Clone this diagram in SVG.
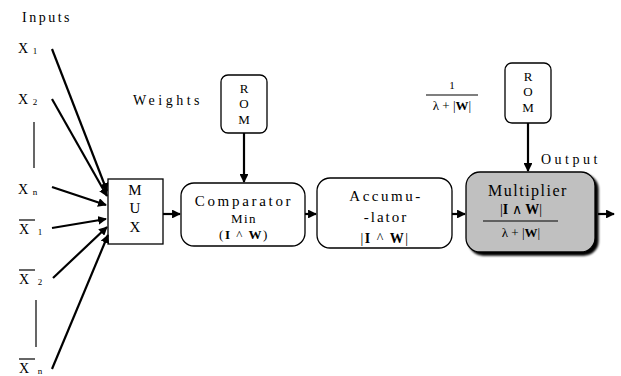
<svg xmlns="http://www.w3.org/2000/svg" width="621" height="376" viewBox="0 0 621 376" font-family="Liberation Serif">
<defs>
<marker id="ah" viewBox="0 0 10 10" refX="9" refY="5" markerWidth="4" markerHeight="4" orient="auto" markerUnits="strokeWidth">
<path d="M0,0 L10,5 L0,10 z" fill="#000"/>
</marker>
<filter id="sh" x="-10%" y="-10%" width="130%" height="130%">
<feOffset dx="3" dy="3" in="SourceAlpha" result="o"/>
<feGaussianBlur in="o" stdDeviation="1" result="b"/>
<feMerge><feMergeNode in="b"/><feMergeNode in="SourceGraphic"/></feMerge>
</filter>
</defs>
<style>
.lbl{font-size:14px;letter-spacing:2.5px}
.wide{letter-spacing:3.5px}
.sub{font-size:9px;letter-spacing:0}
.box{fill:#fff;stroke:#000;stroke-width:1.3}
.c{stroke:#000;stroke-width:2.2;fill:none}
.t{text-anchor:middle}
.b{font-weight:bold}
.thin{stroke:#000;stroke-width:1.2}
</style>
<rect width="621" height="376" fill="#fff"/>

<g id="inputs">
<text font-family="Liberation Serif" class="lbl" x="22" y="22">Inputs</text>
<text font-family="Liberation Serif" class="lbl" x="18" y="53">X<tspan class="sub" dx="2" dy="1">1</tspan></text>
<text font-family="Liberation Serif" class="lbl" x="18" y="104">X<tspan class="sub" dx="2" dy="1">2</tspan></text>
<line class="thin" x1="34" y1="122" x2="34" y2="168"/>
<text font-family="Liberation Serif" class="lbl" x="18" y="194">X<tspan class="sub" dx="2" dy="1">n</tspan></text>
<text font-family="Liberation Serif" class="lbl" x="19" y="234">X<tspan class="sub" dx="6" dy="1">1</tspan></text>
<line class="thin" x1="19" y1="220" x2="35" y2="220"/>
<text font-family="Liberation Serif" class="lbl" x="19" y="284">X<tspan class="sub" dx="6" dy="1">2</tspan></text>
<line class="thin" x1="19" y1="270" x2="35" y2="270"/>
<line class="thin" x1="36" y1="300" x2="36" y2="347"/>
<text font-family="Liberation Serif" class="lbl" x="19" y="373">X<tspan class="sub" dx="6" dy="1">n</tspan></text>
<line class="thin" x1="19" y1="359" x2="35" y2="359"/>
</g>

<g id="weights-label"><text font-family="Liberation Serif" class="lbl wide" x="133" y="105">Weights</text></g>

<g id="frac-label">
<text font-family="Liberation Serif" class="t" x="452" y="89" font-size="11">1</text>
<line class="thin" x1="426" y1="95" x2="478" y2="95" stroke-width="1"/>
<text font-family="Liberation Serif" class="t" x="452" y="110" font-size="13">λ + |<tspan class="b">W</tspan>|</text>
</g>

<g id="output-label"><text font-family="Liberation Serif" class="lbl wide" x="541" y="164">Output</text></g>

<g id="mux">
<rect class="box" x="108" y="179" width="55" height="65"/>
<text font-family="Liberation Serif" class="t" x="135" y="195" font-size="15">M</text>
<text font-family="Liberation Serif" class="t" x="135" y="213" font-size="15">U</text>
<text font-family="Liberation Serif" class="t" x="135" y="232" font-size="15">X</text>
</g>

<g id="rom1">
<rect class="box" x="221" y="75" width="46" height="58" rx="7"/>
<text font-family="Liberation Serif" class="t" x="244" y="93" font-size="13">R</text>
<text font-family="Liberation Serif" class="t" x="244" y="108" font-size="13">O</text>
<text font-family="Liberation Serif" class="t" x="244" y="124" font-size="13">M</text>
</g>

<g id="comparator">
<rect class="box" x="181" y="183" width="124" height="63" rx="13"/>
<text font-family="Liberation Serif" class="t" x="244" y="206" font-size="15" letter-spacing="2.7">Comparator</text>
<text font-family="Liberation Serif" class="t" x="244" y="223" font-size="13" letter-spacing="1.5">Min</text>
<text font-family="Liberation Serif" class="t" x="244" y="239" font-size="13" letter-spacing="1.5">(<tspan class="b">I</tspan> ^ <tspan class="b">W</tspan>)</text>
</g>

<g id="accumulator">
<rect class="box" x="317" y="178" width="135" height="70" rx="13"/>
<text font-family="Liberation Serif" class="t" x="386" y="201" font-size="15" letter-spacing="2.5">Accumu-</text>
<text font-family="Liberation Serif" class="t" x="386" y="222" font-size="15" letter-spacing="2">-lator</text>
<text font-family="Liberation Serif" class="t" x="385" y="243" font-size="14" letter-spacing="1.5">|<tspan class="b">I</tspan> ^ <tspan class="b">W</tspan>|</text>
</g>

<g id="rom2">
<rect class="box" x="505" y="63" width="46" height="60" rx="7"/>
<text font-family="Liberation Serif" class="t" x="528" y="81" font-size="13">R</text>
<text font-family="Liberation Serif" class="t" x="528" y="96" font-size="13">O</text>
<text font-family="Liberation Serif" class="t" x="528" y="112" font-size="13">M</text>
</g>

<g id="multiplier">
<rect x="466" y="172" width="129" height="80" rx="14" fill="#c0c0c0" stroke="#000" stroke-width="1.3" filter="url(#sh)"/>
<text font-family="Liberation Serif" class="t" x="528" y="196" font-size="16" letter-spacing="1.5">Multiplier</text>
<text font-family="Liberation Serif" class="t" x="521" y="214" font-size="14">|<tspan class="b">I</tspan> ∧ <tspan class="b">W</tspan>|</text>
<line x1="483" y1="221" x2="558" y2="221" stroke="#000" stroke-width="1"/>
<text font-family="Liberation Serif" class="t" x="521" y="237" font-size="13">λ + |<tspan class="b">W</tspan>|</text>
</g>

<g id="connectors">
<line class="c" x1="52" y1="49" x2="107" y2="191" marker-end="url(#ah)"/>
<line class="c" x1="52" y1="99" x2="107" y2="196" marker-end="url(#ah)"/>
<line class="c" x1="52" y1="187" x2="106" y2="205" marker-end="url(#ah)"/>
<line class="c" x1="52" y1="228" x2="106" y2="219" marker-end="url(#ah)"/>
<line class="c" x1="53" y1="278" x2="107" y2="227" marker-end="url(#ah)"/>
<line class="c" x1="52" y1="369" x2="108" y2="235" marker-end="url(#ah)"/>
<line class="c" x1="163" y1="214" x2="180" y2="214" marker-end="url(#ah)"/>
<line class="c" x1="244" y1="133" x2="244" y2="182" marker-end="url(#ah)"/>
<line class="c" x1="305" y1="214" x2="316" y2="214" marker-end="url(#ah)"/>
<line class="c" x1="452" y1="214" x2="465" y2="214" marker-end="url(#ah)"/>
<line class="c" x1="528" y1="123" x2="528" y2="171" marker-end="url(#ah)"/>
<line class="c" x1="598" y1="214" x2="614" y2="214" marker-end="url(#ah)"/>
</g>
</svg>
